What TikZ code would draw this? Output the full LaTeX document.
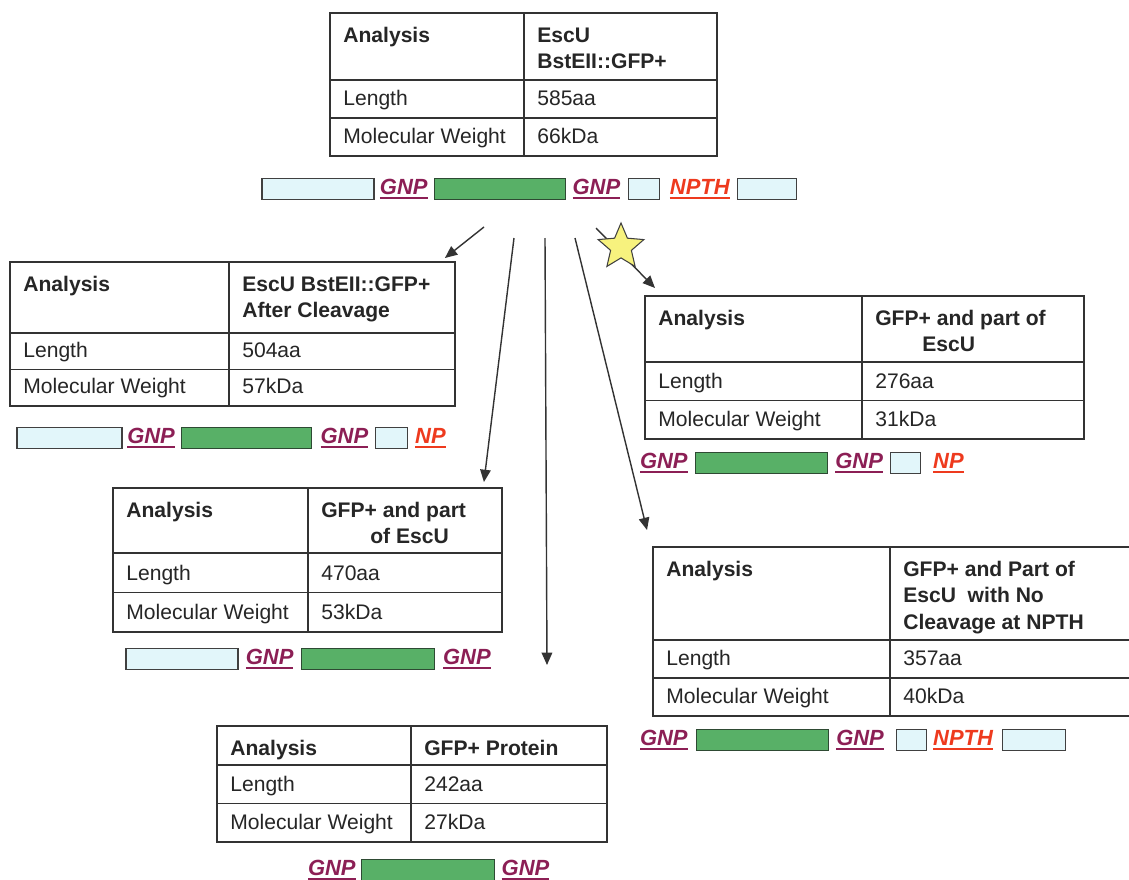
\documentclass[tikz,border=0pt]{standalone}
\usepackage{fontspec}
\setmainfont{Liberation Sans}
\usepackage{tikz}
\usetikzlibrary{shapes,arrows.meta,positioning,calc}

\definecolor{termfill}{HTML}{E2F6FA}
\definecolor{corefill}{HTML}{58B067}
\definecolor{coreline}{HTML}{2E4A33}
\definecolor{gnpred}{HTML}{8C1F55}
\definecolor{nporange}{HTML}{EE3A1E}
\definecolor{starfill}{HTML}{F7F27E}

\newcommand{\cellfont}{\fontsize{12}{15.3}\selectfont}
\newcommand{\sitefont}{\fontsize{12.5}{15}\selectfont\bfseries\itshape}
% underlined cleavage site label
\newcommand{\siteul}[1]{\setbox0\hbox{#1}\rlap{\rule[-2.4pt]{\wd0}{0.9pt}}\box0}

% analysis table: name, top left, column widths, header/row heights, header, length, weight
\newcommand{\proteintable}[9]{%
  \node (#1_an) [cell, minimum width=#3, minimum height=#5] at (#2) {};
  \node (#1_hd) [cell, minimum width=#4, minimum height=#5] at (#1_an.north east) {};
  \node (#1_len) [cell, minimum width=#3, minimum height=#6] at (#1_an.south west) {};
  \node (#1_lenv) [cell, minimum width=#4, minimum height=#6] at (#1_len.north east) {};
  \node (#1_mw) [cell, minimum width=#3, minimum height=#6] at (#1_len.south west) {};
  \node (#1_mwv) [cell, minimum width=#4, minimum height=#6] at (#1_mw.north east) {};
  \node (#1_an_t) [headtext] at ([shift={(13,29)}]#1_an.north west) {Analysis};
  \node (#1_hd_t) [headtext] at ([shift={(13,29)}]#1_hd.north west) {\begin{tabular}[t]{@{}l@{}}#7\end{tabular}};
  \node (#1_len_t) [rowtext] at ([shift={(13,-12)}]#1_len.south west) {Length};
  \node (#1_lenv_t) [rowtext] at ([shift={(13,-12)}]#1_lenv.south west) {#8};
  \node (#1_mw_t) [rowtext] at ([shift={(13,-12)}]#1_mw.south west) {Molecular Weight};
  \node (#1_mwv_t) [rowtext] at ([shift={(13,-12)}]#1_mwv.south west) {#9};
}

\begin{document}
\begin{tikzpicture}[x=0.02cm, y=-0.02cm]

% Define styles
\tikzstyle{cell} = [rectangle, anchor=north west, draw=black!80, line width=0.7pt, inner sep=0, outer sep=0]
\tikzstyle{headtext} = [anchor=base west, inner sep=0, font=\cellfont\bfseries, text=black!85]
\tikzstyle{rowtext} = [anchor=base west, inner sep=0, font=\cellfont, text=black!85]
\tikzstyle{term} = [rectangle, draw=black!75, fill=termfill, minimum height=0.42cm, inner sep=0, outer sep=0, line width=0.6pt]
\tikzstyle{core} = [rectangle, draw=coreline, fill=corefill, minimum height=0.42cm, inner sep=0, outer sep=0, line width=0.6pt]
\tikzstyle{gnp} = [inner sep=0, outer sep=0, text=gnpred, font=\sitefont, text height=9pt, text depth=2.6pt]
\tikzstyle{np} = [gnp, text=nporange]
\tikzstyle{arrow} = [draw=black!80, line width=0.8pt, -{Triangle[length=7pt,width=6pt]}]

\useasboundingbox (0,0) rectangle (1129,879);
\clip (0,0) rectangle (1129,879);
\fill [white] (0,0) rectangle (1129,879);

% Full length protein
\proteintable{full}{330,13}{3.88cm}{3.86cm}{1.34cm}{0.76cm}{EscU\\BstEII::GFP+}{585aa}{66kDa}

\node (top_n) [term, minimum width=2.24cm, anchor=west] at (262,189) {};
\node (top_g1) [gnp, right=3.4pt of top_n] {\siteul{GNP}};
\node (top_core) [core, minimum width=2.62cm, right=4pt of top_g1] {};
\node (top_g2) [gnp, right=4pt of top_core] {\siteul{GNP}};
\node (top_m) [term, minimum width=0.62cm, right=4.5pt of top_g2] {};
\node (top_np) [np, right=6.2pt of top_m] {\siteul{NPTH}};
\node (top_c) [term, minimum width=1.18cm, right=4.5pt of top_np] {};

% Cleaved at GNP and NPTH
\proteintable{cleaved}{10,262}{4.38cm}{4.52cm}{1.42cm}{0.73cm}{EscU BstEII::GFP+\\After Cleavage}{504aa}{57kDa}

\node (cut_n) [term, minimum width=2.1cm, anchor=west] at (17,438) {};
\node (cut_g1) [gnp, right=3pt of cut_n] {\siteul{GNP}};
\node (cut_core) [core, minimum width=2.6cm, right=4pt of cut_g1] {};
\node (cut_g2) [gnp, right=5pt of cut_core] {\siteul{GNP}};
\node (cut_m) [term, minimum width=0.64cm, right=4pt of cut_g2] {};
\node (cut_np) [np, right=4.5pt of cut_m] {\siteul{NP}};

\proteintable{npth}{645,296}{4.34cm}{4.44cm}{1.32cm}{0.77cm}{GFP+ and part of\\\hspace*{0.94cm}EscU}{276aa}{31kDa}

\node (np_g1) [gnp, anchor=west] at (640,463) {\siteul{GNP}};
\node (np_core) [core, minimum width=2.64cm, right=4.5pt of np_g1] {};
\node (np_g2) [gnp, right=4.5pt of np_core] {\siteul{GNP}};
\node (np_m) [term, minimum width=0.6cm, right=4.5pt of np_g2] {};
\node (np_np) [np, right=7pt of np_m] {\siteul{NP}};

\proteintable{gnpcut}{113,488}{3.9cm}{3.88cm}{1.3cm}{0.79cm}{GFP+ and part\\\hspace*{0.98cm}of EscU}{470aa}{53kDa}

\node (gc_n) [term, minimum width=2.24cm, anchor=west] at (126,659) {};
\node (gc_g1) [gnp, right=4.5pt of gc_n] {\siteul{GNP}};
\node (gc_core) [core, minimum width=2.66cm, right=4.5pt of gc_g1] {};
\node (gc_g2) [gnp, right=5pt of gc_core] {\siteul{GNP}};

\proteintable{nocut}{653,547}{4.74cm}{5.2cm}{1.86cm}{0.76cm}{GFP+ and Part of\\EscU\ \ with No\\Cleavage at NPTH}{357aa}{40kDa}

\node (nc_g1) [gnp, anchor=west] at (640,740) {\siteul{GNP}};
\node (nc_core) [core, minimum width=2.64cm, right=5pt of nc_g1] {};
\node (nc_g2) [gnp, right=4.5pt of nc_core] {\siteul{GNP}};
\node (nc_m) [term, minimum width=0.6cm, right=7pt of nc_g2] {};
\node (nc_np) [np, right=4pt of nc_m] {\siteul{NPTH}};
\node (nc_c) [term, minimum width=1.26cm, right=5.5pt of nc_np] {};

% GFP+ alone
\proteintable{gfp}{217,726}{3.88cm}{3.92cm}{0.78cm}{0.77cm}{GFP+ Protein}{242aa}{27kDa}

\node (gfp_g1) [gnp, anchor=west] at (308,870) {\siteul{GNP}};
\node (gfp_core) [core, minimum width=2.66cm, right=3.5pt of gfp_g1] {};
\node (gfp_g2) [gnp, right=4pt of gfp_core] {\siteul{GNP}};

% Arrows to the products
\coordinate (src_a) at (484,227);
\coordinate (src_b) at (514,238);
\coordinate (src_c) at (545,238);
\coordinate (src_d) at (575,238);
\coordinate (src_e) at (596,228);
\coordinate (drop) at (547,665);

\draw [arrow] (src_a) -- ($(cleaved_hd.north east)+(-10,-4)$);
\draw [arrow] (src_b) -- ($(gnpcut_hd.north east)+(-18,-6)$);
\draw [arrow] (src_c) -- (drop);
\draw [arrow] (src_d) -- ($(nocut_an.north west)+(-6,-17)$);
\draw [arrow] (src_e) -- ($(npth_an.north west)+(10,-8)$);

\node (cut_star) [star, star points=5, star point ratio=2.2, minimum size=0.96cm, inner sep=0, draw=black!75, line width=0.6pt, fill=starfill] at (621,247) {};

\end{tikzpicture}
\end{document}
